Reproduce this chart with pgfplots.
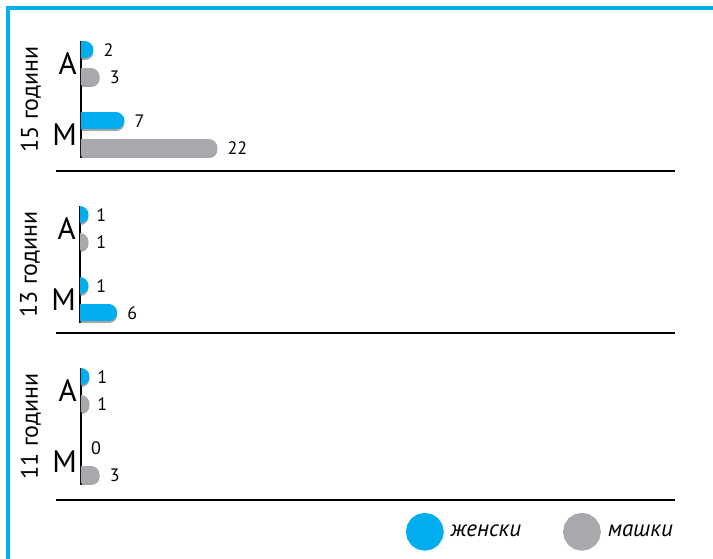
\documentclass[border=0pt]{standalone}
\usepackage{pgfplots}
\pgfplotsset{compat=1.18}
\usepackage{pgfplotstable}
\usepackage{fontspec}
\setmainfont{PT Sans}
\definecolor{fblue}{HTML}{00AEEF}
\definecolor{mgray}{HTML}{A7A9AC}
\definecolor{shad}{HTML}{58595B}

% y: 3.63 = А женски, 2.63 = А машки, 1 = М женски, 0 = М машки
\pgfplotstableread{
y v
3.63 2
1 7
}\fifteenF
\pgfplotstableread{
y v
2.63 3
0 22
}\fifteenM
\pgfplotstableread{
y v
3.63 1
1 1
}\thirteenF
\pgfplotstableread{
y v
2.63 1
}\thirteenM
\pgfplotstableread{
y v
0 6
}\thirteenMb
\pgfplotstableread{
y v
3.63 1
1 0
}\elevenF
\pgfplotstableread{
y v
2.63 1
0 3
}\elevenM

\pgfplotsset{
  panel/.style={
    scale only axis, width=594pt, height=117pt,
    xmin=0, xmax=95.8, ymin=-0.37, ymax=3.96,
    axis x line=none, axis y line=left,
    axis line style={-, line width=1.3pt, black},
    xtick=\empty, ytick={0.5,3.13}, yticklabels={М,А},
    major tick length=0pt,
    yticklabel style={font=\fontsize{31}{31}\selectfont, inner sep=0pt, xshift=-4pt},
    every axis y label/.style={at={(axis description cs:-0.0724,0.5)}, rotate=90, anchor=base, font=\fontsize{24}{24}\selectfont},
    /pgf/number format/assume math mode=true,
    unbounded coords=discard,
  },
  bars/.style={xcomb, line width=17pt, line cap=round, draw=#1},
  shadowbars/.style={xcomb, line width=17pt, line cap=round, draw=shad, opacity=0.55, yshift=-2pt, forget plot},
  labels/.style={draw=none, forget plot, point meta=explicit,
    nodes near coords={\pgfmathprintnumber{\pgfplotspointmeta}},
    nodes near coords align={horizontal},
    every node near coord/.style={anchor=west, inner sep=0pt, xshift=10pt, font=\fontsize{18}{18}\selectfont, text=black}},
}
% bar end: the rounded cap (radius 8.5pt = 1.37 units) ends at the value
\newcommand{\bx}{ifthenelse(\thisrow{v}>0,\thisrow{v}-1.37,nan)}

\begin{document}
\begin{tikzpicture}
\useasboundingbox (0pt,0pt) rectangle (713pt,559pt);
\draw[fblue, line width=4pt] (8pt,0pt) -- (8pt,551pt) -- (713pt,551pt);

% 15 години
\begin{axis}[panel, at={(81pt,401pt)}, anchor=south west, ylabel={15 години}]
\addplot[shadowbars] table[x expr=\bx, y=y] {\fifteenF};
\addplot[bars=fblue] table[x expr=\bx, y=y] {\fifteenF};
\addplot[shadowbars] table[x expr=\bx, y=y] {\fifteenM};
\addplot[bars=mgray] table[x expr=\bx, y=y] {\fifteenM};
\addplot[labels] table[x=v, y=y, meta=v] {\fifteenF};
\addplot[labels] table[x=v, y=y, meta=v] {\fifteenM};
\end{axis}

% 13 години
\begin{axis}[panel, at={(80pt,236pt)}, anchor=south west, ylabel={13 години}]
\addplot[shadowbars] table[x expr=\bx, y=y] {\thirteenF};
\addplot[bars=fblue] table[x expr=\bx, y=y] {\thirteenF};
\addplot[shadowbars] table[x expr=\bx, y=y] {\thirteenM};
\addplot[bars=mgray] table[x expr=\bx, y=y] {\thirteenM};
\addplot[shadowbars] table[x expr=\bx, y=y] {\thirteenMb};
\addplot[bars=fblue] table[x expr=\bx, y=y] {\thirteenMb};
\addplot[labels] table[x=v, y=y, meta=v] {\thirteenF};
\addplot[labels] table[x=v, y=y, meta=v] {\thirteenM};
\addplot[labels] table[x=v, y=y, meta=v] {\thirteenMb};
\end{axis}

% 11 години
\begin{axis}[panel, at={(81pt,74pt)}, anchor=south west, ylabel={11 години},
  legend image code/.code={\fill[#1] (10pt,0pt) circle (10.3pt);},
  legend style={at={(axis description cs:1.005,-0.40)}, anchor=east, draw=none, fill=none,
    legend columns=2, font=\itshape\fontsize{23}{23}\selectfont,
    /tikz/every odd column/.append style={column sep=5pt},
    /tikz/every even column/.append style={column sep=40pt}}]
\addplot[shadowbars] table[x expr=\bx, y=y] {\elevenF};
\addplot[bars=fblue, fill=fblue] table[x expr=\bx, y=y] {\elevenF};
\addlegendentry{женски}
\addplot[shadowbars] table[x expr=\bx, y=y] {\elevenM};
\addplot[bars=mgray, fill=mgray] table[x expr=\bx, y=y] {\elevenM};
\addlegendentry{машки}
\addplot[labels] table[x=v, y=y, meta=v] {\elevenF};
\addplot[labels] table[x=v, y=y, meta=v] {\elevenM};
\end{axis}

\draw[line width=1.8pt] (56pt,388pt) -- (675pt,388pt);
\draw[line width=1.8pt] (56pt,226pt) -- (675pt,226pt);
\draw[line width=1.8pt] (56pt,59pt) -- (675pt,59pt);
\end{tikzpicture}
\end{document}
